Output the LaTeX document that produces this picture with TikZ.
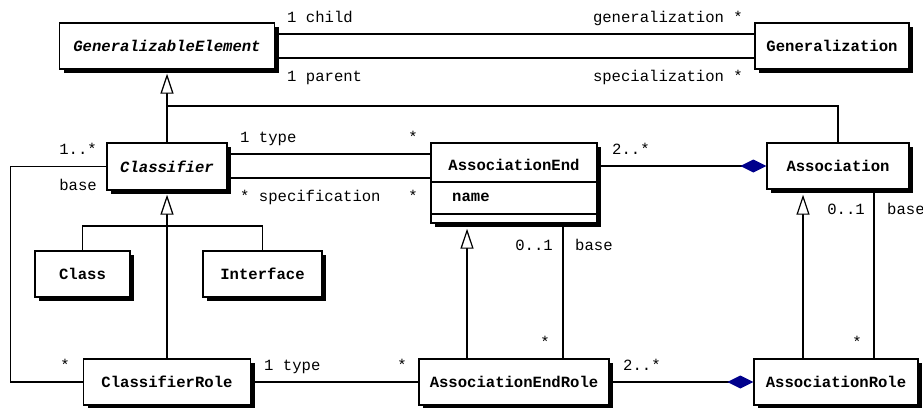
\documentclass[tikz,border=0pt]{standalone}
\usepackage{fontspec}
\setmainfont{Liberation Mono}
\usetikzlibrary{arrows.meta,shadows}
\definecolor{diamondblue}{RGB}{0,0,140}
\begin{document}
\begin{tikzpicture}[x=1pt,y=-1pt,
  txt/.style={font=\fontsize{15.6}{18}\selectfont},
  umlclass/.style={draw, line width=1.4pt, fill=white, inner sep=0pt,
    font=\fontsize{15.6}{18}\selectfont\bfseries,
    drop shadow={shadow xshift=4pt, shadow yshift=-4pt, fill=black, opacity=1}},
  abstractclass/.style={umlclass, font=\fontsize{15.6}{18}\selectfont\bfseries\itshape},
  mult/.style={txt, inner sep=0pt},
  conn/.style={draw, line width=1.2pt},
  genarrow/.style={-{Triangle[length=20pt, width=13pt, fill=white, line width=1.2pt]}},
  comptip/.style={-{Diamond[length=26pt, width=13pt, fill=diamondblue, color=diamondblue]}}
]
\fill[white] (0,0) rectangle (923,407);
\useasboundingbox (0,0) rectangle (923,407);

% classes
\node[abstractclass, minimum width=215pt, minimum height=46pt] (ge) at (167,46) {GeneralizableElement};
\node[umlclass, minimum width=154pt, minimum height=46pt] (gen) at (832,46) {Generalization};
\node[abstractclass, minimum width=120pt, minimum height=47pt] (cls) at (167,166.5) {Classifier};
\node[umlclass, minimum width=166pt, minimum height=80pt] (ae) at (514,183) {};
\node[umlclass, minimum width=142pt, minimum height=46pt] (assoc) at (838,166) {Association};
\node[umlclass, minimum width=95pt, minimum height=46pt] (class) at (82.5,274) {Class};
\node[umlclass, minimum width=119pt, minimum height=46pt] (iface) at (262.5,274) {Interface};
\node[umlclass, minimum width=167pt, minimum height=46pt] (crole) at (167,382) {ClassifierRole};
\node[umlclass, minimum width=190pt, minimum height=46pt] (aer) at (514,382) {AssociationEndRole};
\node[umlclass, minimum width=164pt, minimum height=46pt] (arole) at (836,382) {AssociationRole};

% AssociationEnd compartments
\draw[line width=1.4pt] (ae.west |- 0,182) -- (ae.east |- 0,182);
\draw[line width=1.4pt] (ae.west |- 0,214) -- (ae.east |- 0,214);
\node[txt, inner sep=0pt, font=\fontsize{15.6}{18}\selectfont\bfseries] (aetitle) at (514,165) {AssociationEnd};
\node[txt, inner sep=0pt, anchor=base west, font=\fontsize{15.6}{18}\selectfont\bfseries] (aename) at (452,201.5) {name};

% associations
\draw[conn] (ge.east |- 0,34) -- (gen.west |- 0,34);
\draw[conn] (ge.east |- 0,58) -- (gen.west |- 0,58);
\draw[conn] (cls.east |- 0,154) -- (ae.west |- 0,154);
\draw[conn] (cls.east |- 0,178) -- (ae.west |- 0,178);
\draw[conn, comptip] (ae.east |- assoc.west) -- (assoc.west);
\draw[conn] (cls.west) -- ++(-96,0) |- (crole.west);
\draw[conn] (crole.east) -- (aer.west);
\draw[conn, comptip] (aer.east) -- (arole.west);
\draw[conn] (aer.north -| 563,0) -- (ae.south -| 563,0);
\draw[conn] (arole.north -| 874,0) -- (assoc.south -| 874,0);

% generalizations
\draw[conn, genarrow, shorten >=4pt] (cls.north) -- (ge.south);
\draw[conn] (assoc.north) |- (ge.south |- 0,106);
\draw[conn, genarrow, shorten >=4pt] (crole.north) -- (cls.south);
\draw[conn] (class.north) |- (iface.north |- 0,226) -- (iface.north);
\draw[conn, genarrow, shorten >=5pt] (aer.north -| 467,0) -- (ae.south -| 467,0);
\draw[conn, genarrow, shorten >=5pt] (arole.north -| 803,0) -- (assoc.south -| 803,0);

% role names and multiplicities
\node[mult, anchor=base west] (l1) at (287,22.5) {1 child};
\node[mult, anchor=base west] (l2) at (287,81) {1 parent};
\node[mult, anchor=base east] (l3) at (743,22.5) {generalization *};
\node[mult, anchor=base east] (l4) at (743,81) {specialization *};
\node[mult, anchor=base west] (l5) at (240,142) {1 type};
\node[mult, anchor=base] (l6) at (413,142) {*};
\node[mult, anchor=base west] (l7) at (240,201.5) {* specification};
\node[mult, anchor=base] (l8) at (413,201.5) {*};
\node[mult, anchor=base east] (l9) at (97,154) {1..*};
\node[mult, anchor=base east] (l10) at (97,190) {base};
\node[mult, anchor=base west] (l11) at (612,154) {2..*};
\node[mult, anchor=base east] (l12) at (553,250.5) {0..1};
\node[mult, anchor=base west] (l13) at (575,250.5) {base};
\node[mult, anchor=base east] (l14) at (865,214) {0..1};
\node[mult, anchor=base west] (l15) at (887,214) {base};
\node[mult, anchor=base] (l16) at (65,370.5) {*};
\node[mult, anchor=base west] (l17) at (264,370.5) {1 type};
\node[mult, anchor=base] (l18) at (402,370.5) {*};
\node[mult, anchor=base west] (l19) at (623,370.5) {2..*};
\node[mult, anchor=base] (l20) at (545,347) {*};
\node[mult, anchor=base] (l21) at (857,347) {*};
\end{tikzpicture}
\end{document}
